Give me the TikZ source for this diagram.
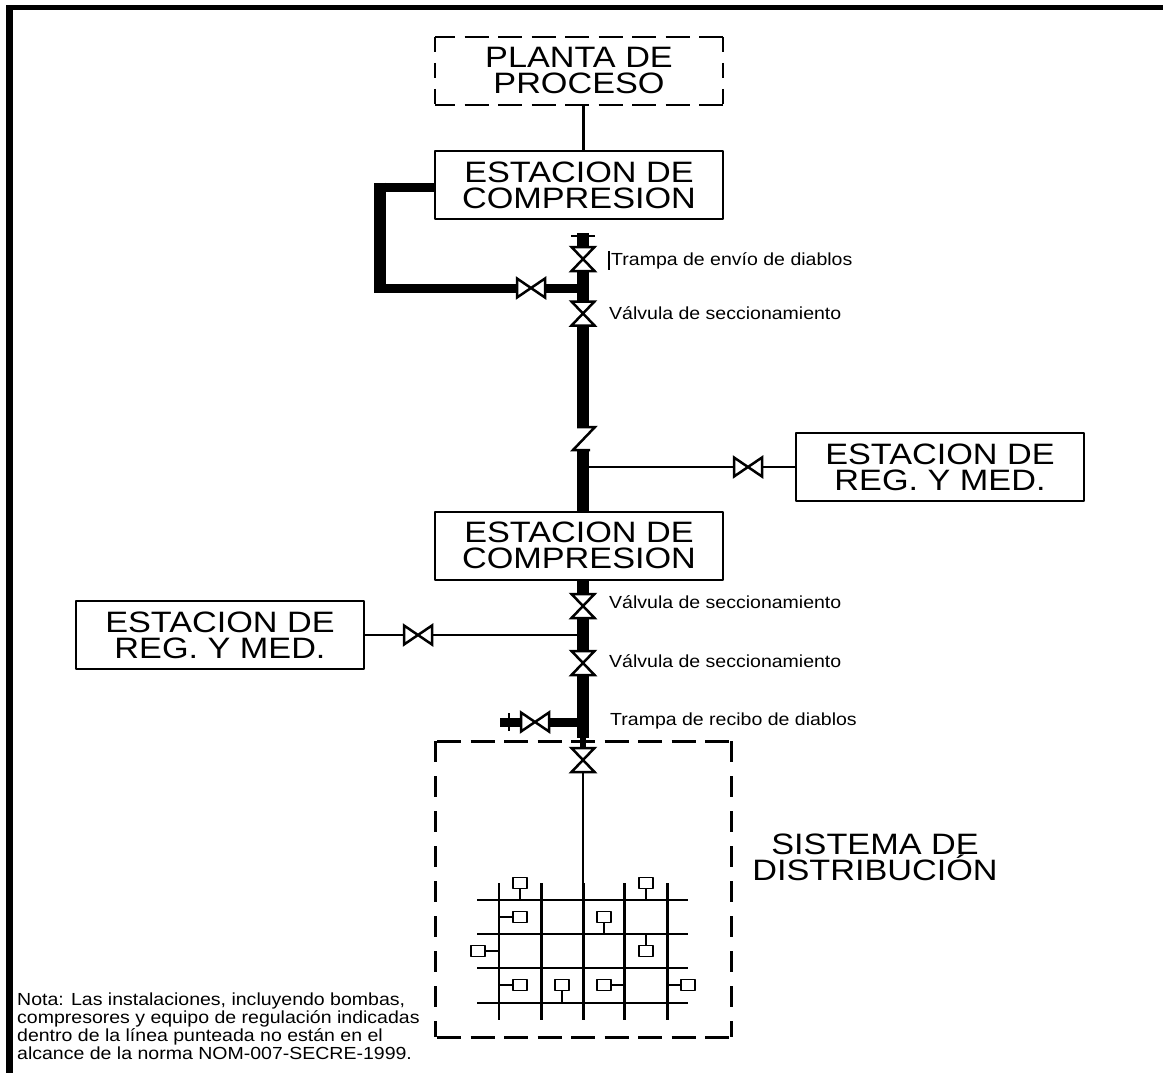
\documentclass[tikz,border=0pt]{standalone}
\usepackage{fontspec}
\setmainfont[FakeStretch=1.115]{Liberation Sans}
\newfontfamily\boxfont[FakeStretch=1.16]{Liberation Sans}
\tikzset{
	equipo/.style={draw, line width=2pt, minimum width=288pt, minimum height=68pt, align=center, inner sep=0pt, font=\boxfont\fontsize{29.5}{26}\selectfont},
	limite/.style={line width=3pt, dash pattern=on 24pt off 9.5pt},
	gruesa/.style={line width=12pt},
	media/.style={line width=9pt},
	delgada/.style={line width=2.5pt},
	valvula/.style={draw, line width=2.5pt, line join=miter},
	etiqueta/.style={anchor=west, inner sep=0pt, font=\fontsize{17.5}{18}\selectfont},
	casilla/.style={draw, fill=white, line width=1.5pt, minimum width=14pt, minimum height=11pt, inner sep=0pt},
}
\begin{document}
\begin{tikzpicture}[x=1pt, y=-1pt, line join=round]
	\useasboundingbox (0,0) rectangle (1163,1073);
	% marco
	\fill (6,5) rectangle (1163,10);
	\fill (6,5) rectangle (13,1073);
	% equipos
	\node[equipo, draw=none] (P) at (579,70) {PLANTA DE\\PROCESO};
	\node[equipo] (C1) at (579,185) {ESTACION DE\\COMPRESION};
	\node[equipo] (C2) at (579,545.5) {ESTACION DE\\COMPRESION};
	\node[equipo] (R1) at (940,467) {ESTACION DE\\REG. Y MED.};
	\node[equipo] (R2) at (220,635) {ESTACION DE\\REG. Y MED.};
	% limites punteados
	\coordinate (A1) at (435,37);
	\coordinate (A2) at (723,37);
	\coordinate (A3) at (435,105);
	\coordinate (A4) at (723,105);
	\coordinate (B1) at (435,741);
	\coordinate (B2) at (731,741);
	\coordinate (B3) at (435,1037);
	\coordinate (B4) at (731,1037);
	\draw[limite, line width=2.5pt, dash phase=4pt] (A1)--(A2);
	\draw[limite, line width=2.5pt, dash phase=4pt] (A3)--(A4);
	\draw[limite, line width=2.5pt, dash pattern=on 15pt off 11pt] (A1)--(A3);
	\draw[limite, line width=2.5pt, dash pattern=on 15pt off 11pt] (A2)--(A4);
	\draw[limite, dash phase=-2pt] (B1)--(B2);
	\draw[limite, dash phase=-2pt] (B3)--(B4);
	\draw[limite, dash pattern=on 21pt off 14pt] (B1)--(B3);
	\draw[limite, dash pattern=on 21pt off 14pt] (B2)--(B4);
	% lineas
	\coordinate (T1) at (583,233);
	\coordinate (Z1) at (583,427);
	\coordinate (Z2) at (583,450);
	\coordinate (C) at (380,187);
	\coordinate (D) at (380,288);
	\coordinate (E) at (583,288);
	\coordinate (F) at (583,467);
	\coordinate (G) at (583,635);
	\coordinate (H) at (583,722);
	\coordinate (I) at (500,722);
	\coordinate (J) at (583,738);
	\coordinate (K) at (583,748);
	\coordinate (L) at (583,883);
	\draw[line width=3pt] (P.south -| E) -- (C1.north -| E);
	\draw[gruesa] (T1)--(Z1);
	\draw[gruesa] (Z2)--(C2.north -| Z2);
	\draw[gruesa] (C2.south -| Z2)--(J);
	\draw[media] (C1.west |- C)--(C);
	\draw[media] (D)--(E);
	\draw[gruesa] (380,182.5)--(380,292.5);
	\draw[media] (H)--(I);
	\draw[line width=6pt] (J)--(K);
	\draw[delgada] (F)--(R1.west |- F);
	\draw[delgada] (G)--(R2.east |- G);
	\draw[delgada] (K)--(L);
	\draw[delgada] (571,236)--(595,236);
	\draw[delgada] (509,713)--(509,731);
	% quiebre
	\fill[white] (570,427) rectangle (597,450);
	\draw[delgada, line join=miter] (577,427)--(595,427)--(573,450)--(590,450);
	% valvulas
	\foreach \y in{259,313.5,606,663,760} {
		\fill[white] (571.5,\y-12) rectangle (594.5,\y+12);
		\draw[valvula] (571.5,\y-12)--(594.5,\y-12)--(571.5,\y+12)--(594.5,\y+12)--cycle;
	}
	\foreach \x/\y in{531/288,748/467,418/635,535/722} {
		\fill[white] (\x-14,\y-9.5) rectangle (\x+14,\y+9.5);
		\draw[valvula] (\x-14,\y-9.5)--(\x+14,\y+9.5)--(\x+14,\y-9.5)--(\x-14,\y+9.5)--cycle;
	}
	% etiquetas
	\draw[line width=1.5pt] (609,251)--(609,270);
	\node[etiqueta] (e1) at (611,260.5) {Trampa de envío de diablos};
	\node[etiqueta] (e2) at (609,313) {Válvula de seccionamiento};
	\node[etiqueta] (e3) at (609,602) {Válvula de seccionamiento};
	\node[etiqueta] (e4) at (609,661) {Válvula de seccionamiento};
	\node[etiqueta] (e5) at (610,720.5) {Trampa de recibo de diablos};
	\node[align=center, inner sep=0pt, font=\boxfont\fontsize{29.5}{26}\selectfont] (S) at (875,857) {SISTEMA DE\\DISTRIBUCIÓN};
	\node[anchor=north west, align=left, inner sep=0pt, font=\fontsize{17.5}{18}\selectfont] (N) at (17,992.5) {Nota: Las instalaciones, incluyendo bombas,\\compresores y equipo de regulación indicadas\\dentro de la línea punteada no están en el\\alcance de la norma NOM-007-SECRE-1999.};
	% red de distribucion
	\foreach \y in{900,934,968,1003} \draw[line width=2.5pt] (477,\y)--(688,\y);
	\draw[line width=2pt] (499,883)--(499,1020);
	\foreach \x in{541,583,624,667} \draw[line width=3pt] (\x,883)--(\x,1020);
	\foreach \n/\x/\y/\a/\b in{a/520/883/520/900,b/520/917/499/917,c/604/917/604/934,d/646/883/646/900,e/646/951/646/934,f/478/951/499/951,g/520/985/499/985,h/562/985/562/1003,i/604/985/624/985,j/688/985/667/985}{
		\node[casilla] (\n) at (\x,\y) {};
		\draw[line width=1.5pt] (\n)--(\a,\b);
	}
\end{tikzpicture}
\end{document}
